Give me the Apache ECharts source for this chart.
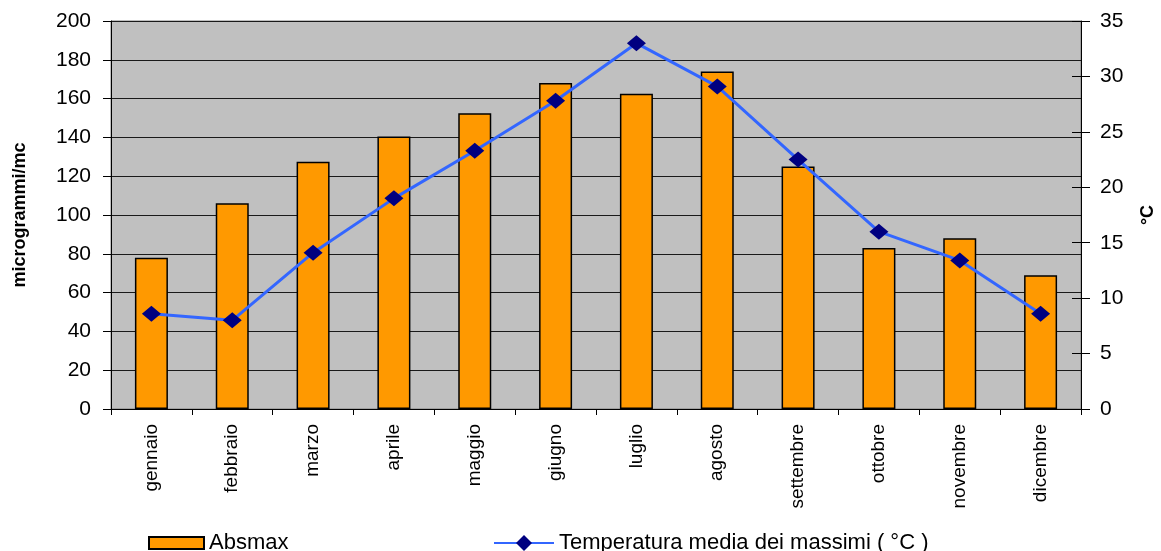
<!DOCTYPE html>
<html>
<head>
<meta charset="utf-8">
<script src="https://cdn.jsdelivr.net/npm/echarts@6/dist/echarts.min.js"></script>
<style>
  html, body { margin: 0; padding: 0; background: #fff; }
  #main { width: 1161px; height: 551px; }
</style>
</head>
<body>
<div id="main"></div>
<script>
var mesi = ['gennaio', 'febbraio', 'marzo', 'aprile', 'maggio', 'giugno',
            'luglio', 'agosto', 'settembre', 'ottobre', 'novembre', 'dicembre'];
// Absmax (microgrammi/mc)
var absmax = [78, 106, 127.5, 140.5, 152.5, 168, 162.5, 174, 125, 83, 88, 69];
// temperatura media dei massimi (°C)
var tempMax = [8.6, 8.0, 14.1, 19.0, 23.3, 27.8, 33.0, 29.1, 22.5, 16.0, 13.4, 8.6];

var font = '"Liberation Sans", Arial, sans-serif';

var myChart = echarts.init(document.getElementById('main'));
var option = {
  animation: false,
  textStyle: { fontFamily: font, color: '#000' },
  grid: {
    left: 111, right: 80, top: 21, bottom: 142,
    outerBoundsMode: 'none',
    show: true,
    backgroundColor: '#c0c0c0',
    borderColor: '#808080',
    borderWidth: 1
  },
  legend: [
    {
      data: ['Absmax'],
      left: 143, top: 527,
      itemWidth: 55, itemHeight: 12,
      icon: 'rect',
      textStyle: { fontSize: 22, color: '#000', fontFamily: font }
    },
    {
      data: ['Temperatura media dei massimi ( °C )'],
      left: 488, top: 527,
      itemWidth: 60, itemHeight: 20,
      textStyle: { fontSize: 22, color: '#000', fontFamily: font }
    }
  ],
  xAxis: {
    type: 'category',
    data: mesi,
    axisLine: { lineStyle: { color: '#000', width: 1 } },
    axisTick: { show: true, length: 6, lineStyle: { color: '#000' } },
    axisLabel: { rotate: 90, fontSize: 19, margin: 15, color: '#000', interval: 0 }
  },
  yAxis: [
    {
      type: 'value',
      min: 0, max: 200, interval: 20,
      name: 'microgrammi/mc',
      nameLocation: 'middle',
      nameGap: 82,
      nameRotate: 90,
      nameTextStyle: { fontSize: 18, fontWeight: 'bold', color: '#000' },
      axisLine: { show: true, lineStyle: { color: '#000' } },
      axisTick: { show: true, length: 8, lineStyle: { color: '#000' } },
      axisLabel: { fontSize: 21, margin: 20, color: '#000' },
      splitLine: { show: true, lineStyle: { color: '#1a1a1a', width: 1 } }
    },
    {
      type: 'value',
      position: 'right',
      min: 0, max: 35, interval: 5,
      name: '°C',
      nameLocation: 'middle',
      nameGap: 58,
      nameRotate: 90,
      nameTextStyle: { fontSize: 18, fontWeight: 'bold', color: '#000' },
      axisLine: { show: true, lineStyle: { color: '#000' } },
      axisTick: { show: true, length: 9, lineStyle: { color: '#000' } },
      axisLabel: { fontSize: 21, margin: 19, color: '#000' },
      splitLine: { show: false }
    },
    {
      // tacche interne dell'asse destro
      type: 'value',
      position: 'right',
      min: 0, max: 35, interval: 5,
      axisLine: { show: false },
      axisTick: { show: true, inside: true, length: 9, lineStyle: { color: '#000' } },
      axisLabel: { show: false },
      splitLine: { show: false }
    }
  ],
  series: [
    {
      name: 'Absmax',
      type: 'bar',
      data: absmax,
      barWidth: 33,
      itemStyle: { color: '#ff9900', borderColor: '#000', borderWidth: 1.5 }
    },
    {
      name: 'Temperatura media dei massimi ( °C )',
      type: 'line',
      yAxisIndex: 1,
      data: tempMax,
      symbol: 'diamond',
      symbolSize: [19, 16],
      itemStyle: { color: '#000080' },
      lineStyle: { color: '#3366ff', width: 3 },
      z: 5
    }
  ]
};
myChart.setOption(option);
</script>
</body>
</html>
